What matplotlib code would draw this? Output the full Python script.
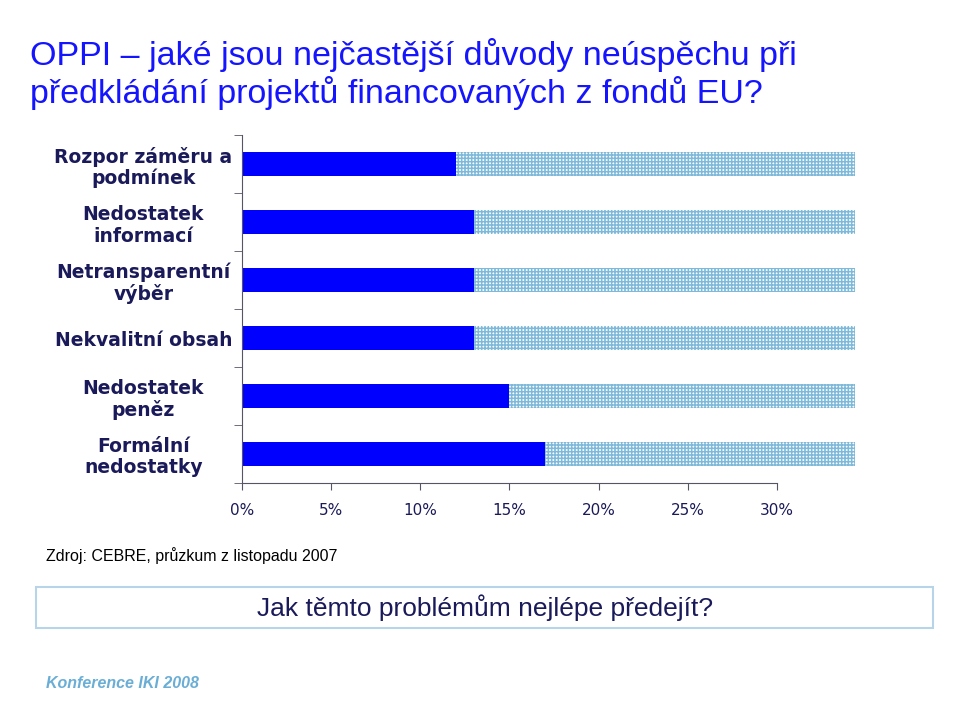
import numpy as np
from matplotlib import pyplot as plt
from matplotlib.patches import Rectangle

categories = ["Rozpor záměru a\npodmínek", "Nedostatek\ninformací", "Netransparentní\nvýběr",
              "Nekvalitní obsah", "Nedostatek\npeněz", "Formální\nnedostatky"]
values = np.array([12, 13, 13, 13, 15, 17])
rest = 100 - values
xticks = [0, 5, 10, 15, 20, 25, 30]
xticklabels = ["0%", "5%", "10%", "15%", "20%", "25%", "30%"]

navy = "#1a1a5a"
plt.rcParams['hatch.linewidth'] = 1.1
plt.rcParams['hatch.color'] = "#7fb9da"

fig = plt.figure(figsize=(9.6, 7.2), dpi=100)
ax = fig.add_axes([0.252, 0.329, 0.639, 0.483])

y = np.arange(len(categories))
ax.barh(y, values, height=0.41, color="#0000ff", linewidth=0)
ax.barh(y, rest, left=values, height=0.41, color="white", hatch="+++++",
        edgecolor="#7fb9da", linewidth=0)

ax.set_xlim(0, 34.4)
ax.set_ylim(len(categories) - 0.5, -0.5)
ax.set_yticks(y)
ax.set_yticklabels(categories, fontsize=13.5, fontweight="bold", color=navy,
                   ha="center", linespacing=1.15, family="DejaVu Sans")
ax.tick_params(axis="y", length=0, pad=71)
ax.set_yticks(np.arange(-0.5, len(categories)), minor=True)
ax.tick_params(axis="y", which="minor", length=6, direction="out", color="#555566")
ax.set_xticks(xticks)
ax.set_xticklabels(xticklabels, fontsize=11, color=navy, family="DejaVu Sans")
ax.tick_params(axis="x", length=5, direction="out", color="#555566", pad=9)
for s in ["top", "right"]:
    ax.spines[s].set_visible(False)
ax.spines["bottom"].set_bounds(0, 30)
ax.spines["bottom"].set_color("#555566")
ax.spines["left"].set_color("#555566")

fig.text(0.031, 0.924, "OPPI – jaké jsou nejčastější důvody neúspěchu při", fontsize=24.5,
         color="#1414ff", family="Liberation Sans", va="center")
fig.text(0.031, 0.871, "předkládání projektů financovaných z fondů EU?", fontsize=24.5,
         color="#1414ff", family="Liberation Sans", va="center")

fig.text(0.048, 0.228, "Zdroj: CEBRE, průzkum z listopadu 2007", fontsize=11.5,
         color="black", family="Liberation Sans", va="center")
fig.patches.append(Rectangle((0.038, 0.128), 0.934, 0.057, transform=fig.transFigure,
                             facecolor="white", edgecolor="#b8d4e8", linewidth=1.5))
fig.text(0.505, 0.156, "Jak těmto problémům nejlépe předejít?", fontsize=19,
         color=navy, family="Liberation Sans", ha="center", va="center")
fig.text(0.048, 0.05, "Konference IKI 2008", fontsize=11.5, color="#6aaed6",
         family="Liberation Sans", style="italic", fontweight="bold", va="center")

fig.savefig("out.png", dpi=100)
